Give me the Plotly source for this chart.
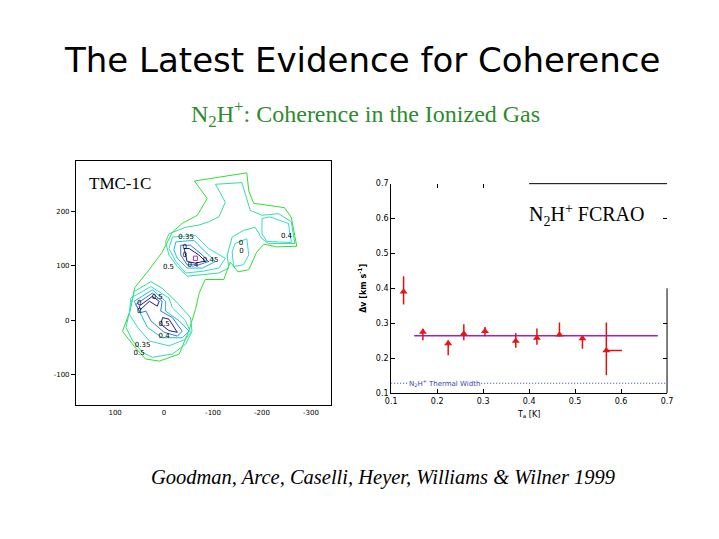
import plotly.graph_objects as go

# ---------------- Right panel data ----------------
TA = [0.127, 0.169, 0.224, 0.258, 0.304, 0.371, 0.417, 0.466, 0.516, 0.568]
DV = [0.390, 0.275, 0.242, 0.270, 0.277, 0.249, 0.258, 0.267, 0.256, 0.222]
DV_UP = [0.435, 0.284, 0.251, 0.297, 0.289, 0.272, 0.285, 0.302, 0.263, 0.302]
DV_LO = [0.354, 0.251, 0.208, 0.251, 0.263, 0.230, 0.238, 0.262, 0.227, 0.151]
TA_ERR_PLUS = [0, 0, 0, 0, 0, 0, 0, 0, 0, 0.034]
FIT_X = [0.15, 0.68]
FIT_DV = 0.264
THERMAL_X = [0.10, 0.70]
THERMAL_DV = 0.128
RIGHT_TICKS = [0.1, 0.2, 0.3, 0.4, 0.5, 0.6, 0.7]

# ---------------- Left panel: contour polygons (arcsec offsets) ----------------
C_OUTER_X = [-62, -169, -173, -183, -246, -260, -271, -230, -204, -189, -173, -151, -135, -122, -84, -72, -64, -51, -31, 10, 38, 60, 85, 70, 60, 34, 4, -17, -37, -68, -88]
C_OUTER_Y = [256, 271, 238, 215, 207, 189, 136, 135, 140, 125, 93, 89, 107, 75, 75, 51, 20, -18, -62, -75, -71, -49, -20, 16, 60, 89, 125, 162, 178, 193, 224]
C_B_UP_X = [-10, -44, -71, -91, -112, -125, -105, -159, -176, -200, -234, -260, -267, -213, -200, -186, -162, -139, -129, -132, -112, -78, -47, -27, -10, -3]
C_B_UP_Y = [159, 171, 175, 181, 190, 217, 250, 253, 202, 193, 196, 181, 141, 141, 150, 171, 165, 153, 120, 96, 87, 84, 81, 99, 120, 144]
C_B_LO_X = [78, 68, 61, 27, 4, -24, -54, -57, -44, -17, 24, 44, 64]
C_B_LO_Y = [-13, 23, 53, 71, 59, 35, 5, -20, -44, -62, -68, -59, -38]
C_RLOBE_X = [-200, -216, -254, -260, -210, -200]
C_RLOBE_Y = [187, 190, 178, 143, 145, 159]
C_MLOBE_X = [-145, -169, -173, -162, -142, -139]
C_MLOBE_Y = [141, 150, 120, 102, 99, 126]
C_C_UP_X = [-17, -64, -91, -125, -112, -78, -44, -24, -10]
C_C_UP_Y = [153, 156, 132, 114, 96, 90, 87, 108, 132]
C_C_LO_X = [68, 27, -10, -17, -44, -54, -44, -10, 30, 54, 71]
C_C_LO_Y = [41, 62, 41, 23, -1, -22, -35, -47, -38, -13, 11]
C_D_UP_X = [-24, -61, -84, -105, -78, -47, -27, -20]
C_D_UP_Y = [144, 147, 126, 108, 96, 96, 114, 129]
C_D_LO_X = [61, 24, -3, -3, -31, -51, -37, 4, 34, 48]
C_D_LO_Y = [35, 56, 35, 17, -1, -20, -32, -32, -13, 11]
C_E_UP_X = [-34, -54, -78, -91, -71, -47, -34]
C_E_UP_Y = [138, 138, 120, 108, 102, 102, 120]
C_E_LO_X = [58, 24, 4, 7, -17, -37, -27, 0, 27, 37, 48]
C_E_LO_Y = [29, 50, 35, 17, 5, -20, -29, -22, -1, 17, 14]
C_F_UP_X = [-41, -51, -71, -84, -64, -47, -44]
C_F_UP_Y = [132, 132, 120, 109, 105, 108, 120]
C_F_L1_X = [51, 24, 10, 14, 30, 48]
C_F_L1_Y = [26, 44, 35, 26, 35, 20]
C_F_L2_X = [3, -10, -27, -10, 7]
C_F_L2_Y = [5, 2, -22, -19, -7]
C_G_X = [-60, -68, -68, -60]
C_G_Y = [118, 118, 110, 110]

MAP_LABELS = ["0.35", "0.4", "0.45", "0.5", "0.4", "0", "0", "0", "0",
              "0.5", "0", "0", "0.5", "0.4", "0.35", "0.5"]
MAP_LABEL_X = [-45, -59, -95, -9, -250, -42, -42, -157, -158,
               14, 51, 51, 0, 0, 44, 51]
MAP_LABEL_Y = [153, 101, 111, 98, 155, 135, 120, 142, 126,
               43, 31, 16, -7, -30, -45, -61]
MAP_XTICKS = [100, 0, -100, -200, -300]
MAP_YTICKS = [200, 100, 0, -100]

GREEN = "#33dd33"
TEAL = "#33dd99"
LTEAL = "#33ddcc"
CYAN = "#22bbdd"
BLUE = "#3377dd"
NAVY = "#1a1a99"
PURPLE = "#aa33cc"

fig = go.Figure()

def loop(xs, ys, color):
    fig.add_trace(go.Scatter(x=xs + xs[:1], y=ys + ys[:1], mode="lines",
                             line=dict(color=color, width=1), xaxis="x", yaxis="y",
                             hoverinfo="skip", showlegend=False))

loop(C_OUTER_X, C_OUTER_Y, GREEN)
loop(C_B_UP_X, C_B_UP_Y, TEAL)
loop(C_B_LO_X, C_B_LO_Y, TEAL)
loop(C_RLOBE_X, C_RLOBE_Y, LTEAL)
loop(C_MLOBE_X, C_MLOBE_Y, LTEAL)
loop(C_C_UP_X, C_C_UP_Y, LTEAL)
loop(C_C_LO_X, C_C_LO_Y, LTEAL)
loop(C_D_UP_X, C_D_UP_Y, CYAN)
loop(C_D_LO_X, C_D_LO_Y, CYAN)
loop(C_E_UP_X, C_E_UP_Y, BLUE)
loop(C_E_LO_X, C_E_LO_Y, BLUE)
loop(C_F_UP_X, C_F_UP_Y, NAVY)
loop(C_F_L1_X, C_F_L1_Y, NAVY)
loop(C_F_L2_X, C_F_L2_Y, NAVY)
loop(C_G_X, C_G_Y, PURPLE)

fig.add_trace(go.Scatter(x=MAP_LABEL_X, y=MAP_LABEL_Y, mode="text", text=MAP_LABELS,
                         textfont=dict(family="DejaVu Sans", size=7, color="black"),
                         xaxis="x", yaxis="y", hoverinfo="skip", showlegend=False))

# ---------------- Right panel traces ----------------
fig.add_trace(go.Scatter(x=THERMAL_X, y=[THERMAL_DV] * len(THERMAL_X), mode="lines",
                         line=dict(color="#3344aa", width=1.2, dash="1px,2px"),
                         xaxis="x2", yaxis="y2", showlegend=False))
fig.add_trace(go.Scatter(x=FIT_X, y=[FIT_DV] * len(FIT_X), mode="lines",
                         line=dict(color="#9922cc", width=1.5),
                         xaxis="x2", yaxis="y2", showlegend=False))
err_plus = [u - v for u, v in zip(DV_UP, DV)]
err_minus = [v - l for v, l in zip(DV, DV_LO)]
fig.add_trace(go.Scatter(x=TA, y=DV, mode="markers",
                         marker=dict(symbol="triangle-up", size=7, color="#ee1111"),
                         error_y=dict(type="data", array=err_plus, arrayminus=err_minus,
                                      color="#dd1111", thickness=1.5, width=0),
                         error_x=dict(type="data", array=TA_ERR_PLUS,
                                      arrayminus=[0] * len(TA), color="#dd1111",
                                      thickness=1.5, width=0),
                         xaxis="x2", yaxis="y2", showlegend=False))
fig.add_trace(go.Scatter(x=[], y=[], xaxis="x3", yaxis="y3", showlegend=False))

tickfont = dict(family="DejaVu Sans", size=8, color="black")
fig.update_layout(
    width=719, height=539,
    margin=dict(l=0, r=0, t=0, b=0),
    paper_bgcolor="white", plot_bgcolor="white",
    xaxis=dict(domain=[0.099, 0.459], range=[180, -340], tickvals=MAP_XTICKS,
               ticktext=[str(v) for v in MAP_XTICKS], showgrid=False, zeroline=False,
               showline=True, linecolor="black", linewidth=1, mirror=True,
               ticks="", tickfont=dict(family="DejaVu Sans", size=7, color="black")),
    yaxis=dict(domain=[0.243, 0.703], range=[-156, 292], tickvals=MAP_YTICKS,
               ticktext=[str(v) for v in MAP_YTICKS], showgrid=False, zeroline=False,
               showline=True, linecolor="black", linewidth=1, mirror=True,
               ticks="outside", ticklen=4, tickcolor="black",
               tickfont=dict(family="DejaVu Sans", size=7, color="black")),
    xaxis2=dict(domain=[0.5448, 0.935], range=[0.1, 0.7], tickvals=RIGHT_TICKS,
                ticktext=[f"{v:.1f}" for v in RIGHT_TICKS], showgrid=False, zeroline=False,
                showline=True, linecolor="black", linewidth=1, ticks="inside",
                ticklen=4, tickcolor="black", tickfont=tickfont, anchor="y2",
                title=dict(text="T<sub>a</sub> [K]", font=dict(family="DejaVu Sans", size=8, color="black"),
                           standoff=6)),
    yaxis2=dict(domain=[0.266, 0.661], range=[0.1, 0.7], tickvals=RIGHT_TICKS,
                ticktext=[f"{v:.1f}" for v in RIGHT_TICKS], showgrid=False, zeroline=False,
                showline=True, linecolor="black", linewidth=1, ticks="inside",
                ticklen=4, tickcolor="black", tickfont=tickfont, anchor="x2",
                title=dict(text="<b>\u0394v [km s<sup>-1</sup>]</b>",
                           font=dict(family="DejaVu Sans", size=8, color="black"), standoff=8)),
    xaxis3=dict(overlaying="x2", side="top", anchor="y2", range=[0.1, 0.7],
                tickvals=[0.2, 0.3], showticklabels=False, ticks="inside", ticklen=4,
                tickcolor="black", showgrid=False, zeroline=False, showline=False),
    yaxis3=dict(overlaying="y2", side="right", anchor="x2", range=[0.1, 0.7],
                tickvals=[0.2, 0.3, 0.6], showticklabels=False, ticks="inside", ticklen=4,
                tickcolor="black", showgrid=False, zeroline=False, showline=False),
    shapes=[
        dict(type="line", xref="x2", yref="y2 domain", x0=0.4, x1=0.7, y0=1, y1=1,
             line=dict(color="black", width=1)),
        dict(type="line", xref="x2 domain", yref="y2", x0=1, x1=1, y0=0.1, y1=0.4,
             line=dict(color="black", width=1)),
    ],
    annotations=[
        dict(text="The Latest Evidence for Coherence", xref="paper", yref="paper",
             x=0.503, y=1 - 57 / 539, xanchor="center", yanchor="middle", showarrow=False,
             font=dict(family="DejaVu Sans", size=34, color="black")),
        dict(text="N<sub>2</sub>H<sup>+</sup>: Coherence in the Ionized Gas", xref="paper",
             yref="paper", x=0.509, y=1 - 112 / 539, xanchor="center", yanchor="middle",
             showarrow=False,
             font=dict(family="Liberation Serif, serif", size=24, color="#2e8b2e")),
        dict(text="<i>Goodman, Arce, Caselli, Heyer, Williams &amp; Wilner 1999</i>",
             xref="paper", yref="paper", x=0.533, y=1 - 482 / 539, xanchor="center",
             yanchor="middle", showarrow=False,
             font=dict(family="Liberation Serif, serif", size=20.5, color="black")),
        dict(text="TMC-1C", xref="x domain", yref="y domain", x=0.045, y=0.955,
             xanchor="left", yanchor="top", showarrow=False,
             font=dict(family="Liberation Serif, serif", size=17, color="black")),
        dict(text="N<sub>2</sub>H<sup>+</sup> FCRAO", xref="x2", yref="y2", x=0.525, y=0.61,
             xanchor="center", yanchor="middle",
             showarrow=False, font=dict(family="Liberation Serif, serif", size=20, color="black")),
        dict(text="N<sub>2</sub>H<sup>+</sup> Thermal Width", xref="x2", yref="y2",
             x=0.217, y=THERMAL_DV, xanchor="center", yanchor="middle", showarrow=False,
             bgcolor="white", borderpad=0,
             font=dict(family="DejaVu Sans", size=7, color="#3344bb")),
    ],
)

fig.write_html("out.html", config={"displayModeBar": False},
               post_script="document.body.style.margin='0';")
